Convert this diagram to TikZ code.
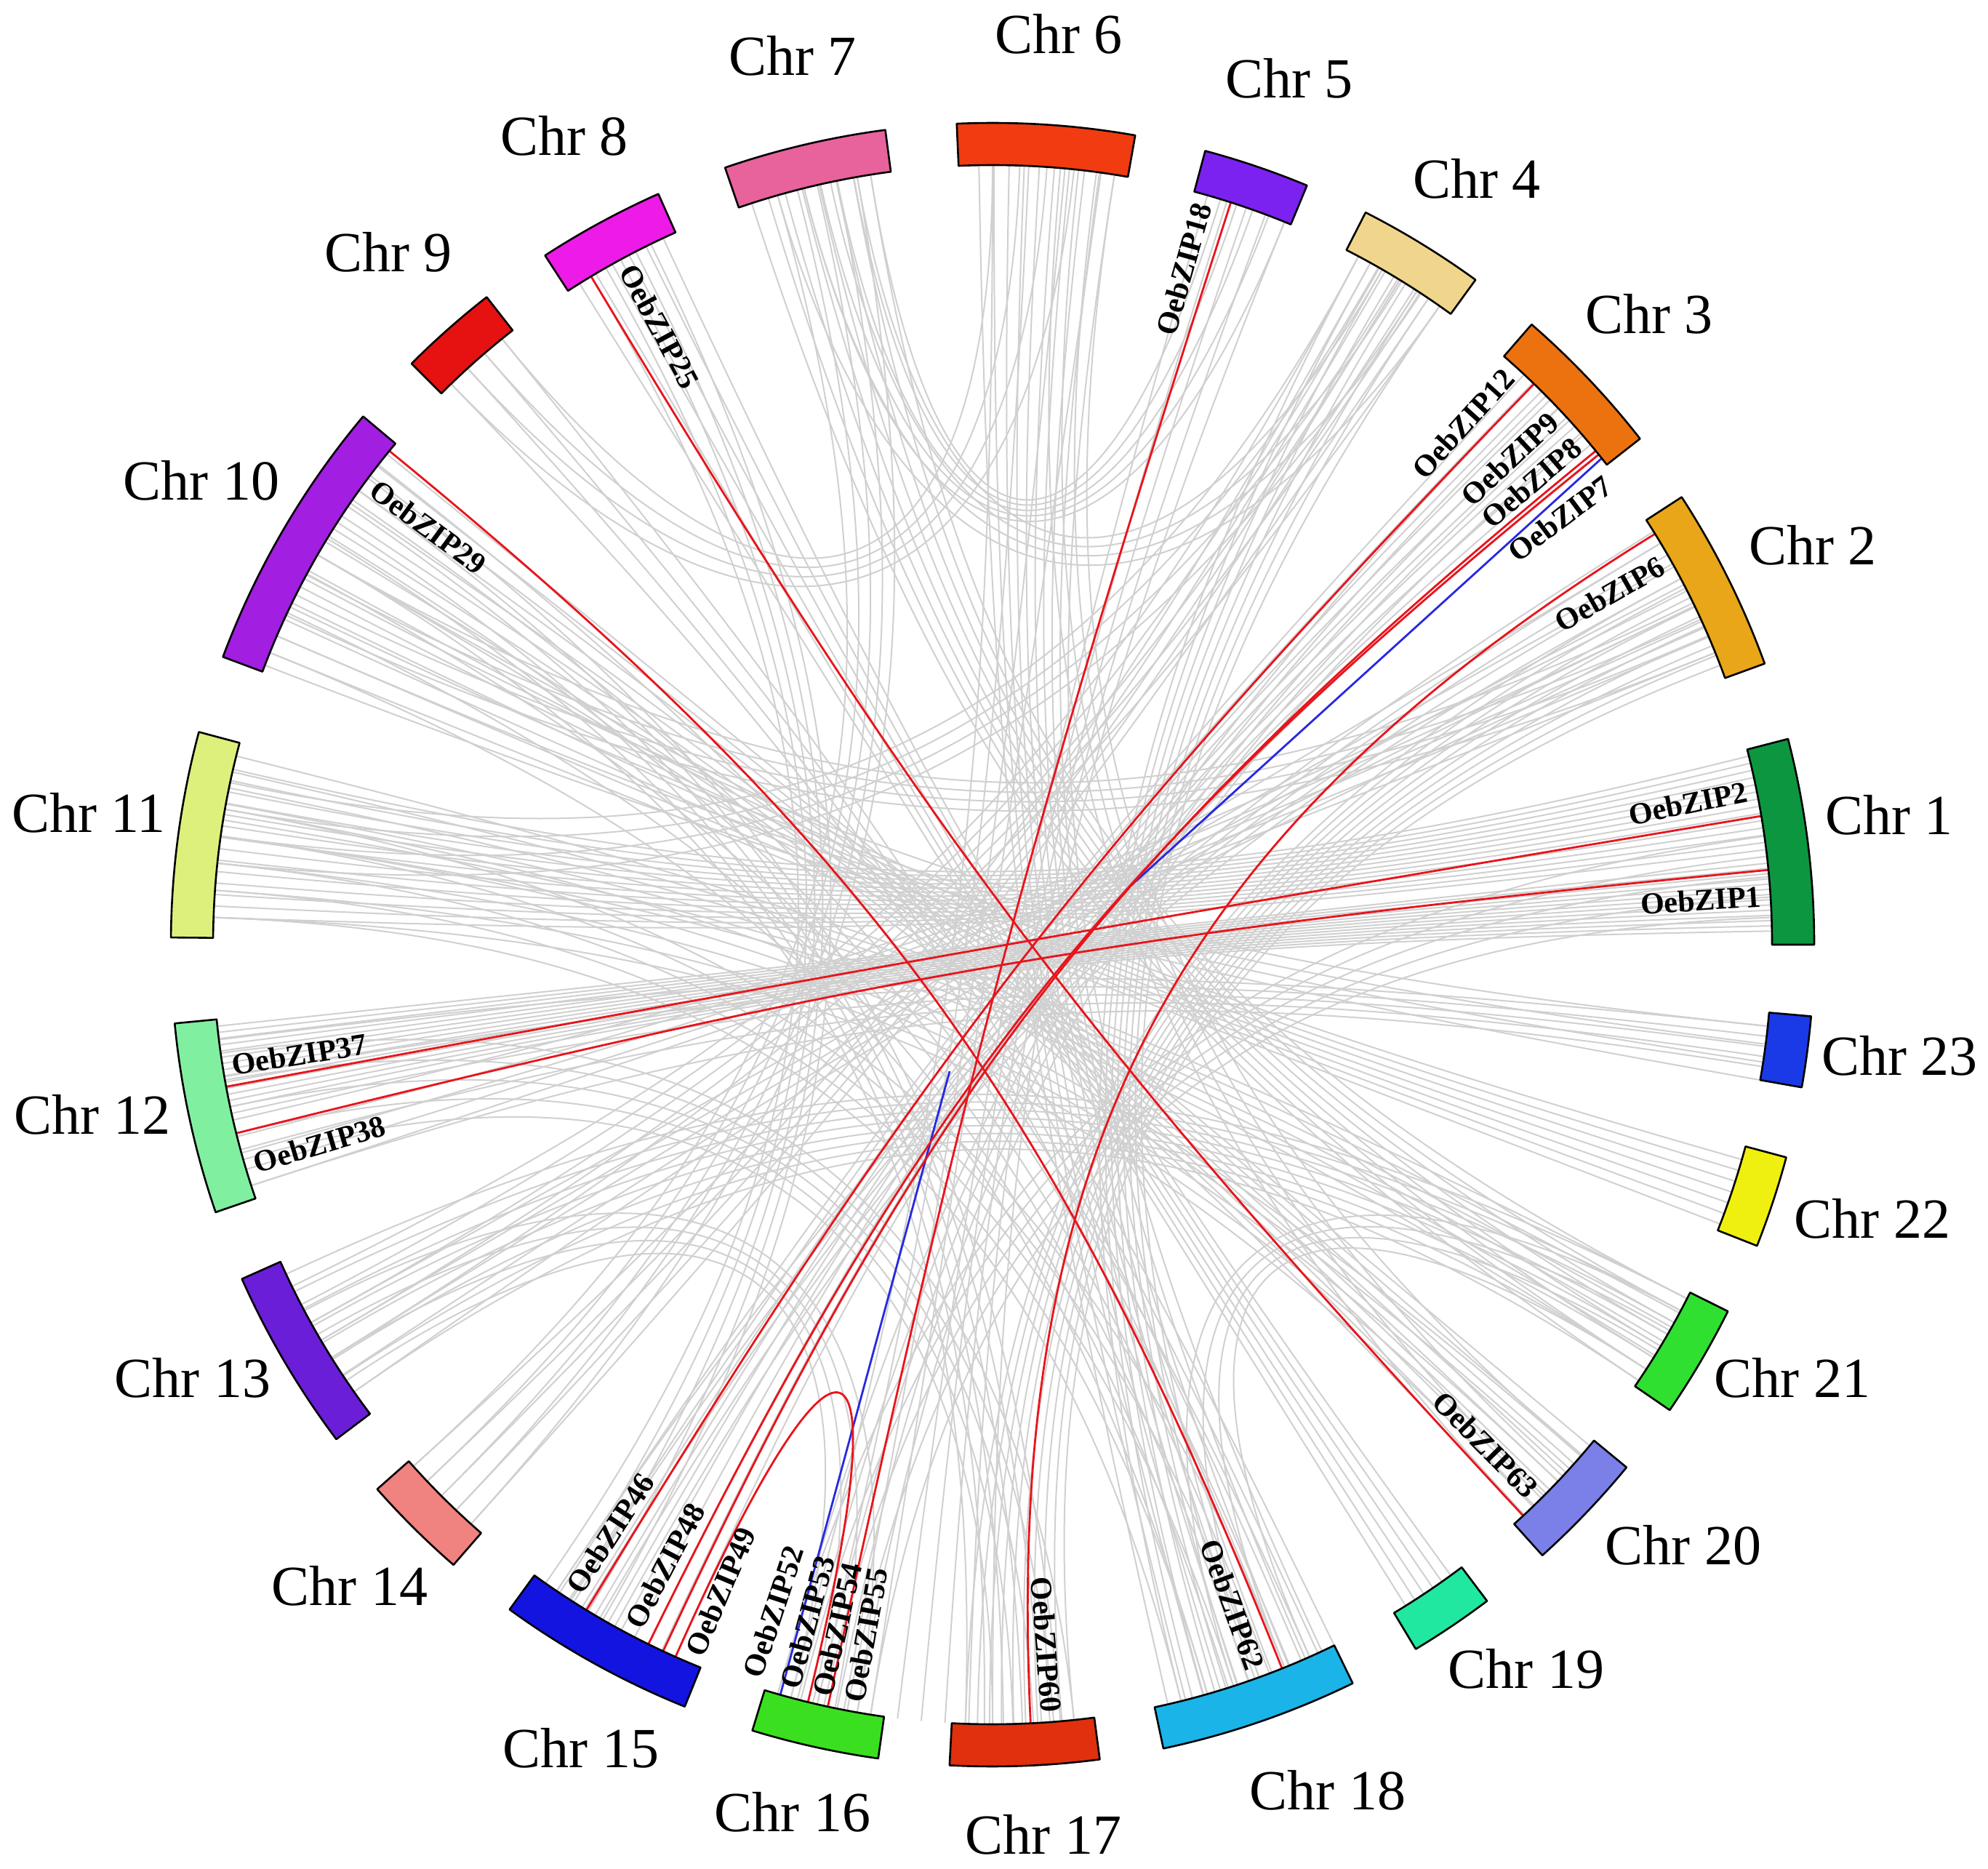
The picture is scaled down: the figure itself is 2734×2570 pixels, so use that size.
\documentclass[tikz,border=0pt]{standalone}
\usepackage{fontspec}
\setmainfont{Liberation Serif}
\definecolor{linkgray}{RGB}{208,208,208}
\definecolor{linkred}{RGB}{232,20,28}
\definecolor{linkblue}{RGB}{40,40,225}
\definecolor{k1}{RGB}{12,150,64}
\definecolor{k2}{RGB}{232,166,24}
\definecolor{k3}{RGB}{236,114,16}
\definecolor{k4}{RGB}{240,214,140}
\definecolor{k5}{RGB}{124,34,240}
\definecolor{k6}{RGB}{240,60,16}
\definecolor{k7}{RGB}{232,98,156}
\definecolor{k8}{RGB}{238,26,232}
\definecolor{k9}{RGB}{230,18,18}
\definecolor{k10}{RGB}{162,30,224}
\definecolor{k11}{RGB}{222,240,124}
\definecolor{k12}{RGB}{128,240,160}
\definecolor{k13}{RGB}{106,30,216}
\definecolor{k14}{RGB}{240,130,128}
\definecolor{k15}{RGB}{20,20,224}
\definecolor{k16}{RGB}{58,224,32}
\definecolor{k17}{RGB}{224,48,14}
\definecolor{k18}{RGB}{26,180,232}
\definecolor{k19}{RGB}{32,232,160}
\definecolor{k20}{RGB}{122,128,232}
\definecolor{k21}{RGB}{48,224,48}
\definecolor{k22}{RGB}{240,240,16}
\definecolor{k23}{RGB}{26,58,232}
\def\Rin{1072}
\def\Rout{1130}
\def\Rlab{1060}
\newcommand\chordlink[2]{%
  \pgfmathsetmacro\lkd{abs(#1-#2)}%
  \pgfmathsetmacro\lkd{\lkd>180 ? 360-\lkd : \lkd}%
  \pgfmathsetmacro\lkr{\Rin*(0.15+0.35*(1-\lkd/180))}%
  \draw[graylink] (#1:\Rin) .. controls (#1:\lkr) and (#2:\lkr) .. (#2:\Rin);}
\newcommand\grayband[5]{%
  \foreach \gi in {1,...,#5}{%
    \pgfmathsetmacro\gA{#1+(#2-#1)*(\gi-1)/max(#5-1,1)}%
    \pgfmathsetmacro\gB{#4-(#4-#3)*(\gi-1)/max(#5-1,1)}%
    \chordlink{\gA}{\gB}%
  }}
\newcommand\genelink[5]{%
  \pgfmathsetmacro\lkd{abs(#3-#5)}%
  \pgfmathsetmacro\lkd{\lkd>180 ? 360-\lkd : \lkd}%
  \pgfmathsetmacro\lkr{\Rin*(0.15+0.35*(1-\lkd/180))}%
  \draw[#1] (#2) .. controls (#3:\lkr) and (#5:\lkr) .. (#4);}
\newcommand\chrsector[3]{%
  \draw[chrframe, fill=#3] (#1:\Rin) arc[start angle=#1, end angle=#2, radius=\Rin]
    -- (#2:\Rout) arc[start angle=#2, end angle=#1, radius=\Rout] -- cycle;}
\begin{document}
\begin{tikzpicture}[x=1pt,y=1pt,
  chrframe/.style={draw=black, line width=2.6pt, line join=round},
  chrlabel/.style={font=\fontsize{78}{90}\selectfont, inner sep=0pt},
  genelabel/.style={font=\bfseries\fontsize{42}{48}\selectfont, inner sep=1pt},
  outlab/.style={genelabel, anchor=east},
  inlab/.style={genelabel, anchor=west},
  graylink/.style={draw=linkgray, line width=2pt},
  redlink/.style={draw=linkred, line width=2.8pt},
  bluelink/.style={draw=linkblue, line width=2.8pt}]
\useasboundingbox (0,0) rectangle (2734,2570);
\fill[white] (0,0) rectangle (2734,2570);
\begin{scope}[shift={(1365,1271)}]
% ---------------- gray links ----------------
\grayband{1}{6}{186}{192}{14}
\grayband{7}{14}{167}{178}{14}
\grayband{21}{28}{268}{276}{10}
\grayband{28}{32}{236}{241}{5}
\grayband{22}{26}{150}{155}{4}
\grayband{24}{31}{209}{215}{5}
\grayband{39}{47}{236}{246}{10}
\grayband{41}{46}{254}{260}{5}
\grayband{55}{62}{284}{290}{8}
\grayband{56}{61}{222}{228}{5}
\grayband{57}{62}{168}{174}{4}
\grayband{68}{74}{263}{270}{5}
\grayband{68}{73}{99}{104}{5}
\grayband{81}{91}{283}{295}{10}
\grayband{82}{90}{255}{261}{4}
\grayband{84}{90}{129}{134}{4}
\grayband{81}{85}{313}{319}{4}
\grayband{99}{108}{326}{333}{8}
\grayband{100}{106}{55}{60}{4}
\grayband{115}{122}{302}{306}{6}
\grayband{129}{134}{292}{296}{4}
\grayband{141}{150}{313}{320}{9}
\grayband{142}{158}{286}{294}{6}
\grayband{150}{158}{339}{344}{7}
\grayband{152}{159}{350}{354}{4}
\grayband{166}{172}{327}{333}{6}
\grayband{170}{178}{314}{319}{5}
\grayband{187}{198}{351}{354}{5}
\grayband{193}{198}{22}{27}{5}
\grayband{205}{215}{326}{333}{8}
\grayband{206}{212}{55}{62}{5}
\grayband{222}{228}{100}{106}{5}
\grayband{235}{240}{116}{121}{5}
\grayband{254}{261}{2}{8}{5}
\grayband{268}{275}{143}{150}{6}
\grayband{270}{276}{188}{196}{5}
\grayband{284}{292}{170}{178}{5}
\grayband{288}{294}{327}{332}{4}
\grayband{208}{214}{255}{260}{4}
% ---------------- gene anchor points ----------------
\coordinate (z1) at (5.5:\Rin);
\coordinate (z2) at (9.5:\Rin);
\coordinate (z6) at (31.8:\Rin);
\coordinate (z7) at (38.6:\Rin);
\coordinate (z8) at (39.3:\Rin);
\coordinate (z9) at (38.95:\Rin);
\coordinate (z12) at (46.0:\Rin);
\coordinate (z18) at (72.2:\Rin);
\coordinate (z25) at (121:\Rin);
\coordinate (z29) at (140.7:\Rin);
\coordinate (z37) at (190.5:\Rin);
\coordinate (z38) at (194:\Rin);
\coordinate (z46) at (238.6:\Rin);
\coordinate (z48) at (243.8:\Rin);
\coordinate (z49) at (245:\Rin);
\coordinate (z49b) at (246:\Rin);
\coordinate (z53) at (254.2:\Rin);
\coordinate (z54) at (256.3:\Rin);
\coordinate (z55) at (257.8:\Rin);
\coordinate (z60) at (272.8:\Rin);
\coordinate (z62) at (291.8:\Rin);
\coordinate (z63) at (312.9:\Rin);
% visible ends of the blue link (its middle is hidden)
\coordinate (bA) at (188,79);
\coordinate (bB) at (-59,-174);
% ---------------- blue link ----------------
\draw[bluelink] (z7) -- (bA);
\draw[bluelink] (bB) -- (z53);
% ---------------- red links ----------------
\genelink{redlink}{z1}{5.5}{z38}{194}
\genelink{redlink}{z2}{9.5}{z37}{190.5}
\genelink{redlink}{z6}{31.8}{z60}{272.8}
\genelink{redlink}{z8}{39.3}{z49}{245}
\genelink{redlink}{z9}{38.95}{z48}{243.8}
\genelink{redlink}{z12}{46.0}{z46}{238.6}
\genelink{redlink}{z18}{72.2}{z55}{257.8}
\genelink{redlink}{z25}{121}{z63}{312.9}
\genelink{redlink}{z29}{140.7}{z62}{291.8}
\genelink{redlink}{z49b}{246}{z54}{256.3}
% ---------------- chromosomes ----------------
\chrsector{0}{14.5}{k1}
\chrsector{20}{33}{k2}
\chrsector{38}{49}{k3}
\chrsector{54}{63}{k4}
\chrsector{67.5}{75}{k5}
\chrsector{80}{92.5}{k6}
\chrsector{97.5}{109}{k7}
\chrsector{114}{123}{k8}
\chrsector{128}{135}{k9}
\chrsector{140}{159.5}{k10}
\chrsector{165}{179.5}{k11}
\chrsector{185.5}{199}{k12}
\chrsector{204}{217}{k13}
\chrsector{221.5}{229}{k14}
\chrsector{234}{248}{k15}
\chrsector{253}{262}{k16}
\chrsector{267}{277.5}{k17}
\chrsector{282}{296}{k18}
\chrsector{301}{307}{k19}
\chrsector{312}{320.5}{k20}
\chrsector{325.5}{333.5}{k21}
\chrsector{338.5}{345}{k22}
\chrsector{350}{355}{k23}
% ---------------- gene labels ----------------
\node[outlab, rotate=3.6] (l1) at (3.6:\Rlab) {OebZIP1};
\node[outlab, rotate=11.5] (l2) at (11.5:\Rlab) {OebZIP2};
\node[outlab, rotate=29.6] (l6) at (29.6:\Rlab) {OebZIP6};
\node[outlab, rotate=36.9] (l7) at (36.9:\Rlab) {OebZIP7};
\node[outlab, rotate=40.6] (l8) at (40.6:\Rlab) {OebZIP8};
\node[outlab, rotate=43.2] (l9) at (43.2:\Rlab) {OebZIP9};
\node[outlab, rotate=47.9] (l12) at (47.9:\Rlab) {OebZIP12};
\node[outlab, rotate=74.2] (l18) at (74.2:\Rlab) {OebZIP18};
\node[inlab, rotate=298.3] (l25) at (118.3:\Rlab) {OebZIP25};
\node[inlab, rotate=323.5] (l29) at (143.5:\Rlab) {OebZIP29};
\node[inlab, rotate=9] (l37) at (189:\Rlab) {OebZIP37};
\node[inlab, rotate=16.5] (l38) at (196.5:\Rlab) {OebZIP38};
\node[inlab, rotate=57] (l46) at (237:\Rlab) {OebZIP46};
\node[inlab, rotate=62.2] (l48) at (242.2:\Rlab) {OebZIP48};
\node[inlab, rotate=67.2] (l49) at (247.2:\Rlab) {OebZIP49};
\node[inlab, rotate=71.8] (l52) at (251.8:\Rlab) {OebZIP52};
\node[inlab, rotate=74.7] (l53) at (254.7:\Rlab) {OebZIP53};
\node[inlab, rotate=77.2] (l54) at (257.2:\Rlab) {OebZIP54};
\node[inlab, rotate=79.6] (l55) at (259.6:\Rlab) {OebZIP55};
\node[outlab, rotate=-85.6] (l60) at (274.4:\Rlab) {OebZIP60};
\node[outlab, rotate=-70] (l62) at (290:\Rlab) {OebZIP62};
\node[outlab, rotate=-45.4] (l63) at (314.6:\Rlab) {OebZIP63};
\end{scope}
% ---------------- chromosome labels ----------------
\node[chrlabel] (c1) at (2598,1449) {Chr 1};
\node[chrlabel] (c2) at (2493,1820) {Chr 2};
\node[chrlabel] (c3) at (2268,2138) {Chr 3};
\node[chrlabel] (c4) at (2031,2324) {Chr 4};
\node[chrlabel] (c5) at (1773,2462) {Chr 5};
\node[chrlabel] (c6) at (1456,2523) {Chr 6};
\node[chrlabel] (c7) at (1090,2493) {Chr 7};
\node[chrlabel] (c8) at (776,2383) {Chr 8};
\node[chrlabel] (c9) at (534,2223) {Chr 9};
\node[chrlabel] (c10) at (277,1909) {Chr 10};
\node[chrlabel] (c11) at (122,1452) {Chr 11};
\node[chrlabel] (c12) at (127,1037) {Chr 12};
\node[chrlabel] (c13) at (265,675) {Chr 13};
\node[chrlabel] (c14) at (481,389) {Chr 14};
\node[chrlabel] (c15) at (799,166) {Chr 15};
\node[chrlabel] (c16) at (1090,78) {Chr 16};
\node[chrlabel] (c17) at (1435,47) {Chr 17};
\node[chrlabel] (c18) at (1826,108) {Chr 18};
\node[chrlabel] (c19) at (2099,275) {Chr 19};
\node[chrlabel] (c20) at (2315,445) {Chr 20};
\node[chrlabel] (c21) at (2465,675) {Chr 21};
\node[chrlabel] (c22) at (2575,894) {Chr 22};
\node[chrlabel, anchor=west] (c23) at (2505,1118) {Chr 23};
\end{tikzpicture}
\end{document}
